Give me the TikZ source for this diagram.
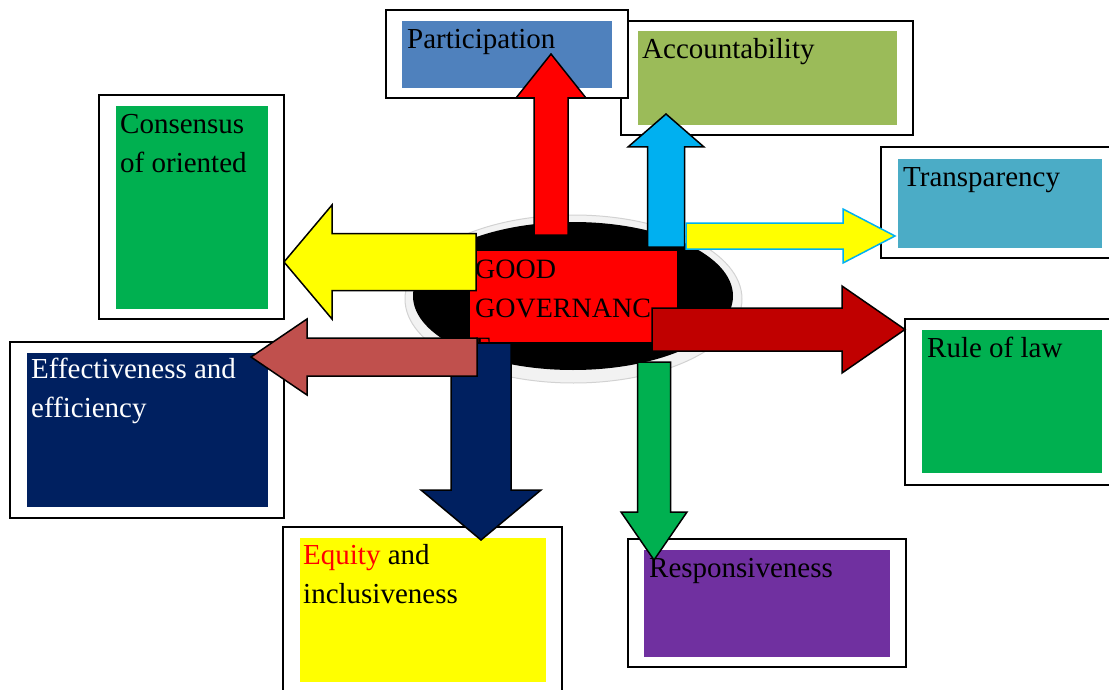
\documentclass[tikz,border=0pt]{standalone}
\usepackage{fontspec}
\setmainfont{Liberation Serif}
\usetikzlibrary{calc,shapes.geometric}

\definecolor{partblue}{HTML}{4F81BD}
\definecolor{accgreen}{HTML}{9BBB59}
\definecolor{transblue}{HTML}{4BACC6}
\definecolor{lawgreen}{HTML}{00B050}
\definecolor{navy}{HTML}{002060}
\definecolor{respurple}{HTML}{7030A0}
\definecolor{skyblue}{HTML}{00B0F0}
\definecolor{brickred}{HTML}{C0504D}
\definecolor{darkred}{HTML}{C00000}
\definecolor{plainred}{HTML}{FF0000}
\definecolor{plainyellow}{HTML}{FFFF00}

\newcommand\boxfont{\fontsize{29}{39}\selectfont}

% block arrow: [style] tail, tip, half shaft, half head, head length
\newcommand\blockarrow[6][]{%
  \path ($(#3)!#6!(#2)$) coordinate (neck);
  \draw[blockarrow,#1] ($(#2)!#4!90:(#3)$) -- ($(neck)!#4!90:(#3)$)
    -- ($(neck)!#5!90:(#3)$) -- (#3) -- ($(neck)!#5!-90:(#3)$)
    -- ($(neck)!#4!-90:(#3)$) -- ($(#2)!#4!-90:(#3)$) -- cycle;
}

\begin{document}
\begin{tikzpicture}[x=1pt,y=-1pt,
  frame/.style={draw,line width=1.5pt,fill=white,inner sep=0pt},
  panel/.style={inner sep=0pt},
  lbl/.style={anchor=base west,inner sep=0pt,align=left,font=\boxfont},
  blockarrow/.style={draw=black,line width=1.5pt,line join=miter}]
\useasboundingbox (0,0) rectangle (1109,690);
\clip (0,0) rectangle (1109,690);

% the eight boxes (labels are placed by their last baseline)
\node[frame,minimum width=292,minimum height=114] (acc-frame) at (767,78) {};
\node[panel,fill=accgreen,minimum width=259,minimum height=94] (acc) at (767.5,78) {};
\node[lbl] (acc-text) at (642,59) {Accountability};

\node[frame,minimum width=242,minimum height=88] (part-frame) at (507,54) {};
\node[panel,fill=partblue,minimum width=210,minimum height=67] (part) at (507,54.5) {};
\node[lbl] (part-text) at (407,49) {Participation};

\node[frame,minimum width=238,minimum height=111] (trans-frame) at (1000,202.5) {};
\node[panel,fill=transblue,minimum width=204,minimum height=89] (trans) at (1000,203.5) {};
\node[lbl] (trans-text) at (903,186) {Transparency};

\node[frame,minimum width=214,minimum height=166] (law-frame) at (1012,402) {};
\node[panel,fill=lawgreen,minimum width=180,minimum height=143] (law) at (1012,401.5) {};
\node[lbl] (law-text) at (927,357) {Rule of law};

\node[frame,minimum width=185,minimum height=224] (cons-frame) at (191.5,207) {};
\node[panel,fill=lawgreen,minimum width=152,minimum height=203] (cons) at (192,207.5) {};
\node[lbl] (cons-text) at (120,172) {Consensus\\of oriented};

\node[frame,minimum width=274,minimum height=176] (eff-frame) at (147,430) {};
\node[panel,fill=navy,minimum width=241,minimum height=154] (eff) at (147.5,430) {};
\node[lbl,text=white] (eff-text) at (31,417) {Effectiveness and\\efficiency};

\node[frame,minimum width=279,minimum height=173] (eq-frame) at (422.5,613.5) {};
\node[panel,fill=plainyellow,minimum width=246,minimum height=144] (eq) at (423,610) {};
\node[lbl] (eq-text) at (303,603) {{\color{plainred}Equity} and\\inclusiveness};

\node[frame,minimum width=278,minimum height=128] (resp-frame) at (767,603) {};
\node[panel,fill=respurple,minimum width=246,minimum height=107] (resp) at (767,603.5) {};
\node[lbl] (resp-text) at (649,577) {Responsiveness};

% centre disc
\node[ellipse,fill=gray!10,draw=gray!35,line width=1pt,minimum width=337,minimum height=168] (rim) at (573.5,299) {};
\node[ellipse,fill=black,minimum width=320,minimum height=148] (disc) at (573,296) {};
\node[panel,fill=plainred,minimum width=207,minimum height=91] (good) at (573.5,296.5) {};
\begin{scope}
  \clip (good.north west) rectangle (good.south east);
  \node[lbl,font=\fontsize{28}{39}\selectfont] (good-text) at (475,356) {GOOD\\GOVERNANC\\E};
\end{scope}

% arrow ends
\coordinate (part-tail) at (551,235);   \coordinate (part-tip) at (551,54);
\coordinate (acc-tail) at (666,247);    \coordinate (acc-tip) at (666,114);
\coordinate (trans-tail) at (686,236);  \coordinate (trans-tip) at (895,236);
\coordinate (cons-tail) at (476,262);   \coordinate (cons-tip) at (284,262);
\coordinate (law-tail) at (652,329.5);  \coordinate (law-tip) at (905,329.5);
\coordinate (eq-tail) at (481,343);     \coordinate (eq-tip) at (481,540);
\coordinate (eff-tail) at (477,357);    \coordinate (eff-tip) at (251,357);
\coordinate (resp-tail) at (654,362);   \coordinate (resp-tip) at (654,560);

\blockarrow[fill=plainred]{part-tail}{part-tip}{17pt}{35pt}{44pt}
\blockarrow[fill=skyblue]{acc-tail}{acc-tip}{18.5pt}{38pt}{33pt}
\blockarrow[fill=plainyellow,draw=skyblue]{trans-tail}{trans-tip}{13pt}{27pt}{52pt}
\blockarrow[fill=plainyellow]{cons-tail}{cons-tip}{28.5pt}{57pt}{48pt}
\blockarrow[fill=darkred]{law-tail}{law-tip}{21.5pt}{43.5pt}{63pt}
\blockarrow[fill=navy]{eq-tail}{eq-tip}{30pt}{60pt}{50pt}
\blockarrow[fill=brickred]{eff-tail}{eff-tip}{19pt}{38pt}{56pt}
\blockarrow[fill=lawgreen]{resp-tail}{resp-tip}{16.5pt}{33pt}{48pt}
\end{tikzpicture}
\end{document}
